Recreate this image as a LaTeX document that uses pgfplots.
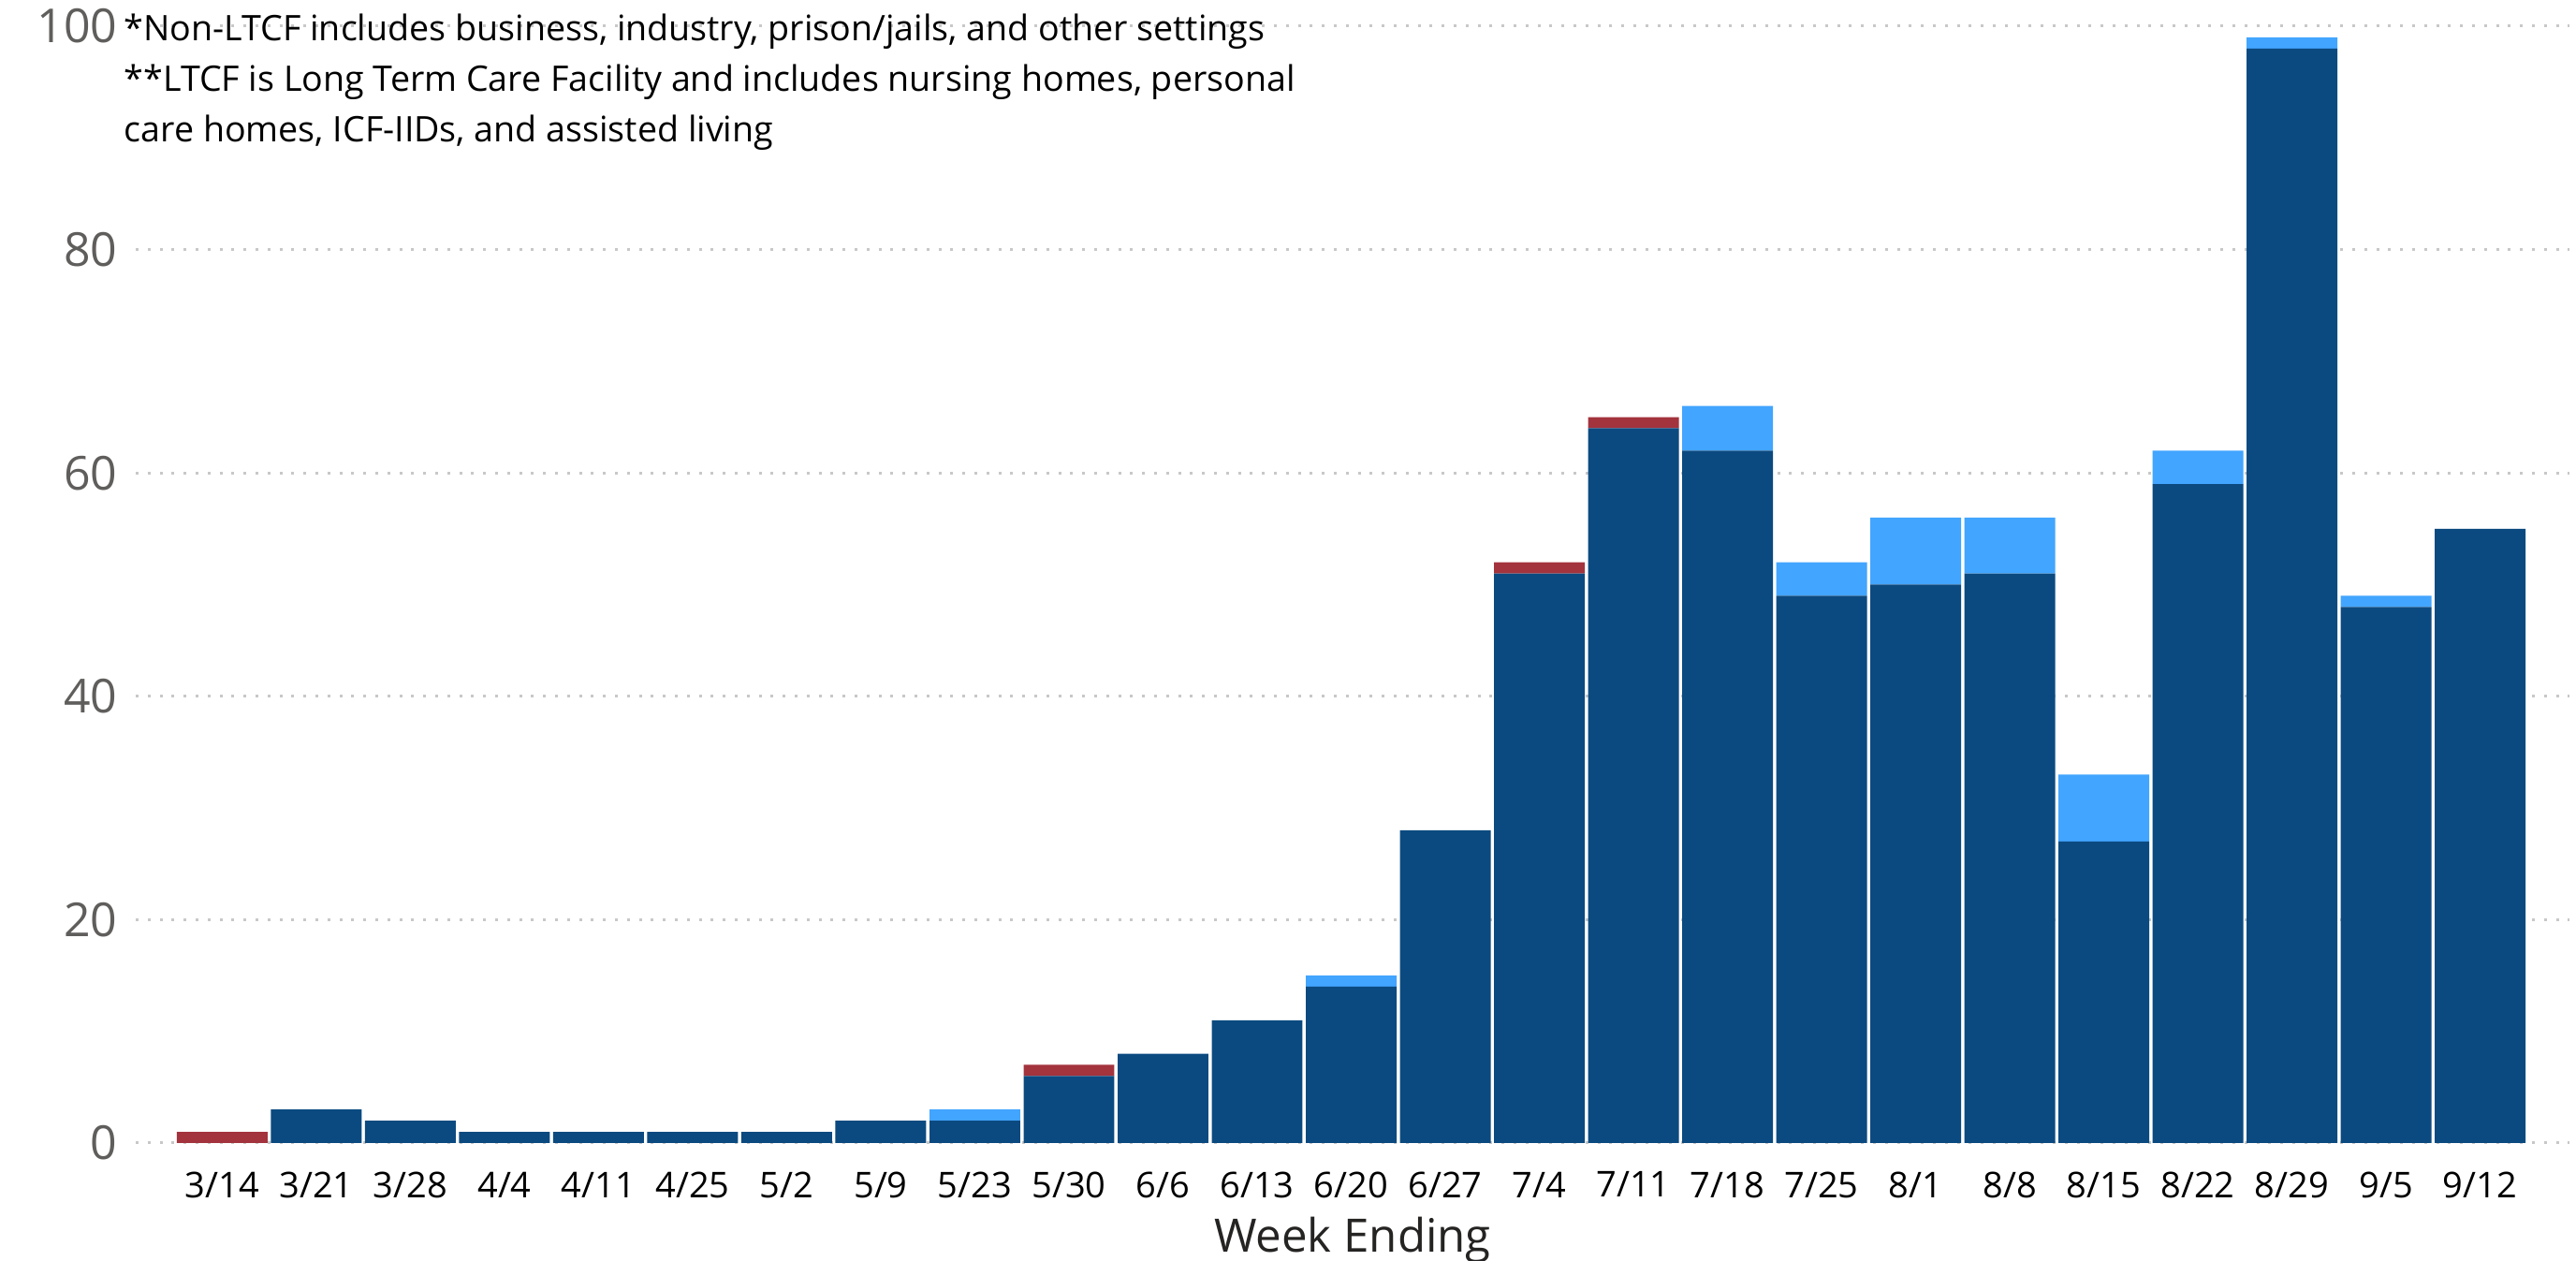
\documentclass[border=0pt]{standalone}
\usepackage{pgfplots}
\pgfplotsset{compat=1.18}
\usepackage{fontspec}
\setmainfont{Open Sans}
\definecolor{darkblue}{HTML}{0B4A80}
\definecolor{lightblue}{HTML}{42A5FF}
\definecolor{darkred}{HTML}{A3333D}
\definecolor{ylab}{HTML}{605E5C}
\definecolor{titlegray}{HTML}{252423}
\definecolor{gridgray}{HTML}{C8C8C8}

\begin{document}
\begin{tikzpicture}
\useasboundingbox (-36.25pt,-31.5pt) rectangle (651.75pt,305.25pt);
\begin{axis}[
  scale only axis,
  width=650pt, height=298.25pt,
  ybar stacked,
  bar width=0.965,
  xmin=-0.92, xmax=24.95,
  ymin=0, ymax=100,
  ytick={0,20,...,100},
  xtick=data,
  xticklabels={3/14,3/21,3/28,4/4,4/11,4/25,5/2,5/9,5/23,5/30,6/6,6/13,6/20,6/27,7/4,7/11,7/18,7/25,8/1,8/8,8/15,8/22,8/29,9/5,9/12},
  axis line style={draw=none},
  major tick length=0pt,
  ymajorgrids,
  grid style={gridgray, line width=0.75pt, dash pattern=on 0.75pt off 2.45pt},
  yticklabel style={font=\fontsize{12.5}{14}\selectfont, text=ylab, anchor=east, inner sep=0pt, xshift=-4.75pt},
  xticklabel style={font=\fontsize{9.5}{11}\selectfont, text=black, anchor=north, inner sep=0pt, yshift=-7.5pt},
  /pgf/number format/assume math mode=true,
  xlabel={Week Ending},
  xlabel style={font=\fontsize{12.3}{14}\selectfont, text=titlegray, at={(rel axis cs:0.5,0)}, anchor=center, yshift=-26pt},
  clip=false,
]
% dark blue
\addplot[fill=darkblue, draw=none] coordinates {
(0,0) (1,3) (2,2) (3,1) (4,1) (5,1) (6,1) (7,2) (8,2) (9,6) (10,8) (11,11) (12,14)
(13,28) (14,51) (15,64) (16,62) (17,49) (18,50) (19,51) (20,27) (21,59) (22,98) (23,48) (24,55)};
% light blue
\addplot[fill=lightblue, draw=none] coordinates {
(0,0) (1,0) (2,0) (3,0) (4,0) (5,0) (6,0) (7,0) (8,1) (9,0) (10,0) (11,0) (12,1)
(13,0) (14,0) (15,0) (16,4) (17,3) (18,6) (19,5) (20,6) (21,3) (22,1) (23,1) (24,0)};
% red
\addplot[fill=darkred, draw=none] coordinates {
(0,1) (1,0) (2,0) (3,0) (4,0) (5,0) (6,0) (7,0) (8,0) (9,1) (10,0) (11,0) (12,0)
(13,0) (14,1) (15,1) (16,0) (17,0) (18,0) (19,0) (20,0) (21,0) (22,0) (23,0) (24,0)};
\node[anchor=north west, align=left, inner sep=0pt, font=\fontsize{9.4}{13.5}\selectfont, text=black]
  at (rel axis cs:0,1) [xshift=-3.25pt, yshift=3.5pt]
  {*Non-LTCF includes business, industry, prison/jails, and other settings\\
   **LTCF is Long Term Care Facility and includes nursing homes, personal\\
   care homes, ICF-IIDs, and assisted living};
\end{axis}
\end{tikzpicture}
\end{document}
